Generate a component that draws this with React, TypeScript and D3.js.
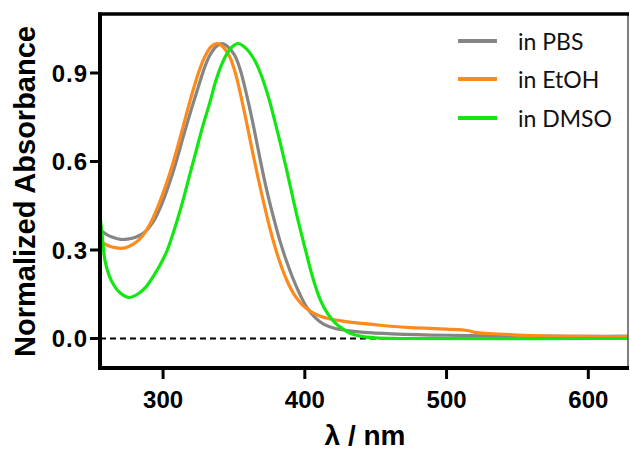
import React from "react";
import * as d3 from "d3";

const xTicks = [300, 400, 500, 600];
const yTicks = [0.0, 0.3, 0.6, 0.9];
const seriesNames = ["in PBS", "in EtOH", "in DMSO"];
const seriesColors = ["#858585", "#ff8a1c", "#14e614"];

const pbs: [number, number][] = [
  [255.5, 0.37], [260, 0.353], [265, 0.342], [270, 0.336], [275, 0.337], [281, 0.344],
  [287, 0.36], [293, 0.395], [299, 0.455], [304, 0.52], [309, 0.595], [314, 0.68],
  [319.5, 0.77], [325, 0.855], [329, 0.915], [333, 0.96], [337.5, 0.99], [341.5, 1.0],
  [345.5, 0.99], [350.5, 0.96], [354.5, 0.91], [358.5, 0.835], [362.5, 0.75],
  [366.5, 0.655], [370.5, 0.56], [374.5, 0.475], [378.5, 0.40], [382.5, 0.33],
  [386.5, 0.27], [391.5, 0.205], [396.5, 0.15], [401.5, 0.105], [407.5, 0.07],
  [413.5, 0.048], [421.5, 0.034], [431.5, 0.026], [441.5, 0.021], [461.5, 0.016],
  [500, 0.011], [560, 0.008], [600, 0.007], [630, 0.008],
];

const etoh: [number, number][] = [
  [255.5, 0.33], [261, 0.315], [267, 0.307], [273, 0.307], [279, 0.32], [285, 0.345],
  [291, 0.39], [297, 0.455], [302, 0.52], [307, 0.595], [312, 0.68], [317, 0.77],
  [322, 0.855], [326, 0.915], [330, 0.96], [334, 0.99], [338, 1.0], [342, 0.99],
  [347, 0.955], [351, 0.90], [355, 0.82], [359, 0.73], [363, 0.635], [367, 0.545],
  [371, 0.46], [375, 0.38], [379, 0.31], [383, 0.25], [388, 0.19], [393, 0.145],
  [398, 0.115], [404, 0.092], [410, 0.077], [418, 0.066], [428, 0.058], [440, 0.051],
  [455, 0.044], [475, 0.037], [500, 0.032], [515, 0.027], [520, 0.021], [530, 0.017],
  [545, 0.013], [560, 0.01], [600, 0.007], [630, 0.006],
];

const dmso: [number, number][] = [
  [255.5, 0.42], [257, 0.35], [259, 0.265], [262, 0.213], [265, 0.183], [270, 0.153],
  [276, 0.139], [282, 0.15], [288, 0.175], [293, 0.21], [298, 0.25], [303, 0.30],
  [308, 0.37], [313, 0.45], [318, 0.54], [323, 0.63], [328, 0.72], [333, 0.80],
  [337, 0.87], [341, 0.925], [345, 0.965], [349, 0.99], [353, 1.0], [357, 0.99],
  [361, 0.97], [366, 0.93], [373, 0.84], [380, 0.715], [387, 0.575], [394, 0.425],
  [401, 0.29], [406, 0.20], [411, 0.13], [416, 0.085], [421, 0.055], [426, 0.035],
  [432, 0.018], [440, 0.007], [450, 0.002], [465, 0.0], [630, 0.0],
];

const seriesData = [pbs, etoh, dmso];

export default function App() {
  const W = 630, H = 450;
  const left = 100, right = 628, top = 14, bottom = 368;
  const x = d3.scaleLinear().domain([255.5, 628]).range([left, right]);
  const y = d3.scaleLinear().domain([-0.1, 1.1]).range([bottom, top]);
  const line = d3.line<[number, number]>()
    .x((d) => x(d[0]))
    .y((d) => y(d[1]))
    .curve(d3.curveCatmullRom.alpha(0.5));
  const tickFont = "Arial, 'Liberation Sans', sans-serif";

  return (
    <svg width={W} height={H} style={{ position: "absolute", left: 0, top: 0 }}>
      <rect x={0} y={0} width={W} height={H} fill="#fff" />
      <defs>
        <clipPath id="plot">
          <rect x={left} y={top} width={right - left} height={bottom - top} />
        </clipPath>
      </defs>
      <line x1={left} x2={right} y1={y(0)} y2={y(0)} stroke="#000" strokeWidth={1.8} strokeDasharray="6,4" />
      <g clipPath="url(#plot)">
        {seriesData.map((s, i) => (
          <path key={i} d={line(s) || ""} fill="none" stroke={seriesColors[i]} strokeWidth={3.2} strokeLinejoin="round" />
        ))}
      </g>
      <line x1={right} x2={right} y1={top} y2={bottom} stroke="#555" strokeWidth={1.5} />
      <line x1={left - 2} x2={right + 1} y1={top} y2={top} stroke="#000" strokeWidth={3.5} />
      <line x1={left} x2={left} y1={top - 1.5} y2={bottom + 2} stroke="#000" strokeWidth={4} />
      <line x1={left - 2} x2={right + 1} y1={bottom} y2={bottom} stroke="#000" strokeWidth={4} />
      {yTicks.map((t) => (
        <g key={t}>
          <line x1={left - 10} x2={left} y1={y(t)} y2={y(t)} stroke="#000" strokeWidth={3} />
          <text x={left - 12} y={y(t)} dy="0.36em" textAnchor="end" fontFamily={tickFont} fontWeight="bold" fontSize={24} letterSpacing={1}>
            {t.toFixed(1)}
          </text>
        </g>
      ))}
      {xTicks.map((t) => (
        <g key={t}>
          <line x1={x(t)} x2={x(t)} y1={bottom} y2={bottom + 11} stroke="#000" strokeWidth={3} />
          <text x={x(t)} y={408} textAnchor="middle" fontFamily={tickFont} fontWeight="bold" fontSize={24}>
            {t}
          </text>
        </g>
      ))}
      <text transform={`translate(35,${(25 + 358) / 2}) rotate(-90)`} textAnchor="middle" fontFamily={tickFont} fontWeight="bold" fontSize={29}>
        Normalized Absorbance
      </text>
      <text x={365} y={445} textAnchor="middle" fontFamily={tickFont} fontWeight="bold" fontSize={28}>
        λ / nm
      </text>
      {seriesNames.map((n, i) => {
        const base = [50, 88, 127][i];
        return (
          <g key={n}>
            <line x1={458} x2={497} y1={base - 9} y2={base - 9} stroke={seriesColors[i]} strokeWidth={4} />
            <text x={518} y={base} fontFamily="Lato, 'Open Sans', sans-serif" fontSize={23} fill="#111">
              {n}
            </text>
          </g>
        );
      })}
    </svg>
  );
}
